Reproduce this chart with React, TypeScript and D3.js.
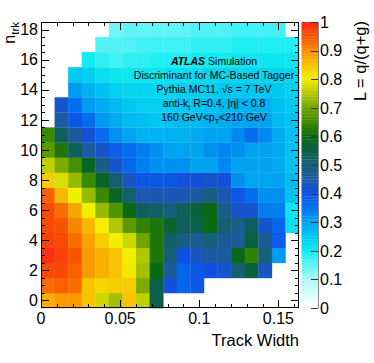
import React, { useEffect, useRef } from 'react';
import * as d3 from 'd3';

// track width axis: 19 bins from 0 to 0.163
const xMax = 0.163;
const nBinsX = 19;
const nTrk = d3.range(0, 19);
const xTickValues = [0, 0.05, 0.1, 0.15];
const xTickLabels = ['0', '0.05', '0.1', '0.15'];
const yTickValues = [0, 2, 4, 6, 8, 10, 12, 14, 16, 18];
const zTickValues = [0, 0.1, 0.2, 0.3, 0.4, 0.5, 0.6, 0.7, 0.8, 0.9, 1];
const zTickLabels = ['0', '0.1', '0.2', '0.3', '0.4', '0.5', '0.6', '0.7', '0.8', '0.9', '1'];

// palette of the colour bar
const paletteStops = [0, 0.05, 0.1, 0.15, 0.2, 0.25, 0.3, 0.35, 0.4, 0.45, 0.5, 0.55, 0.6, 0.65, 0.7, 0.75, 0.8, 0.85, 0.9, 0.95, 1];
const paletteColors = ['#ffffff', '#d8fcfc', '#b0f8f8', '#60f4f8', '#10ecf0', '#00c8f0', '#00a4f0', '#0074f0', '#1050e4', '#1e5aa8', '#17607a', '#0a6048', '#0a6a10', '#3a8a00', '#70a400', '#b0c800', '#f0f000', '#f8c400', '#f89000', '#f85400', '#ff2418'];

// L = q/(q+g) per n_trk row (row n = nTrk value), one value per track width bin, null = empty bin
const L0 = [0.87, 0.89, 0.89, 0.85, 0.77, 0.74, 0.85, 0.76, 0.55, null, null, null, null, null, null, null, null, null, null];
const L1 = [0.93, 0.94, 0.93, 0.85, 0.83, 0.84, 0.84, 0.71, 0.55, 0.41, 0.37, 0.39, null, null, null, null, null, null, null];
const L2 = [0.96, 0.96, 0.94, 0.89, 0.87, 0.85, 0.81, 0.74, 0.6, 0.46, 0.37, 0.39, 0.4, 0.42, 0.51, 0.56, 0.43, null, null];
const L3 = [0.99, 0.97, 0.95, 0.89, 0.87, 0.85, 0.8, 0.75, 0.62, 0.5, 0.4, 0.43, 0.46, 0.46, 0.59, 0.64, 0.5, 0.31, null];
const L4 = [0.97, 0.96, 0.93, 0.88, 0.84, 0.8, 0.77, 0.7, 0.62, 0.52, 0.49, 0.47, 0.5, 0.47, 0.47, 0.56, 0.47, 0.38, null];
const L5 = [0.96, 0.95, 0.91, 0.86, 0.8, 0.75, 0.68, 0.64, 0.62, 0.57, 0.53, 0.55, 0.6, 0.51, 0.48, 0.53, 0.42, 0.37, 0.22];
const L6 = [0.96, 0.93, 0.88, 0.8, 0.73, 0.67, 0.6, 0.53, 0.52, 0.5, 0.53, 0.56, 0.6, 0.48, 0.42, 0.42, 0.34, 0.34, 0.21];
const L7 = [0.94, 0.86, 0.8, 0.73, 0.65, 0.58, 0.51, 0.44, 0.44, 0.44, 0.44, 0.46, 0.49, 0.44, 0.39, 0.36, 0.32, 0.32, 0.26];
const L8 = [0.84, 0.78, 0.73, 0.65, 0.58, 0.51, 0.43, 0.39, 0.39, 0.39, 0.41, 0.41, 0.42, 0.41, 0.32, 0.3, 0.3, 0.3, 0.27];
const L9 = [0.76, 0.71, 0.66, 0.58, 0.49, 0.42, 0.37, 0.34, 0.32, 0.32, 0.32, 0.3, 0.3, 0.33, 0.3, 0.3, 0.3, 0.29, 0.26];
const L10 = [0.68, 0.62, 0.53, 0.46, 0.42, 0.38, 0.36, 0.34, 0.32, 0.3, 0.3, 0.3, 0.32, 0.33, 0.32, 0.3, 0.3, 0.29, 0.26];
const L11 = [0.65, 0.53, 0.46, 0.41, 0.36, 0.32, 0.3, 0.28, 0.28, 0.28, 0.28, 0.29, 0.3, 0.3, 0.33, 0.36, 0.33, 0.29, 0.26];
const L12 = [null, 0.46, 0.39, 0.36, 0.31, 0.29, 0.27, 0.26, 0.25, 0.26, 0.27, 0.27, 0.28, 0.29, 0.3, 0.3, 0.3, 0.27, 0.26];
const L13 = [null, 0.42, 0.36, 0.31, 0.29, 0.27, 0.25, 0.24, 0.24, 0.24, 0.25, 0.25, 0.26, 0.27, 0.28, 0.28, 0.28, 0.26, 0.25];
const L14 = [null, null, 0.31, 0.28, 0.26, 0.24, 0.23, 0.23, 0.23, 0.23, 0.24, 0.24, 0.24, 0.25, 0.25, 0.25, 0.25, 0.25, 0.24];
const L15 = [null, null, 0.25, 0.24, 0.22, 0.21, 0.21, 0.21, 0.21, 0.22, 0.22, 0.22, 0.23, 0.23, 0.23, 0.23, 0.23, 0.23, 0.23];
const L16 = [null, null, null, 0.2, 0.18, 0.17, 0.18, 0.18, 0.19, 0.19, 0.19, 0.2, 0.2, 0.2, 0.21, 0.21, 0.21, 0.21, 0.21];
const L17 = [null, null, null, null, 0.16, 0.16, 0.16, 0.17, 0.17, 0.17, 0.17, 0.18, 0.18, 0.18, 0.19, 0.19, 0.19, 0.19, 0.19];
const L18 = [null, null, null, null, null, 0.14, 0.15, 0.15, 0.15, 0.15, 0.15, 0.16, 0.16, 0.16, 0.17, 0.17, 0.17, 0.17, null];
const lRows = [L0, L1, L2, L3, L4, L5, L6, L7, L8, L9, L10, L11, L12, L13, L14, L15, L16, L17, L18];

const FONT = '"Liberation Sans", Arial, Helvetica, sans-serif';

export default function App() {
  const svgRef = useRef<SVGSVGElement>(null);

  useEffect(() => {
    const svg = d3.select(svgRef.current);
    svg.selectAll('*').remove();

    const left = 41, right = 299, top = 22, bottom = 308;
    const x = d3.scaleLinear().domain([0, xMax]).range([left, right]);
    const y = d3.scaleLinear().domain([-0.5, 18.5]).range([bottom, top]);
    const color = d3.scaleLinear<string>().domain(paletteStops).range(paletteColors).interpolate(d3.interpolateRgb).clamp(true);
    const binW = xMax / nBinsX;

    const cells: { i: number; n: number; v: number }[] = [];
    lRows.forEach((row, n) => row.forEach((v, i) => { if (v != null) cells.push({ i, n: nTrk[n], v }); }));

    svg.append('g').selectAll('rect').data(cells).enter().append('rect')
      .attr('x', d => x(d.i * binW))
      .attr('y', d => y(d.n + 0.5))
      .attr('width', x(binW) - x(0) + 0.3)
      .attr('height', y(0) - y(1) + 0.3)
      .attr('fill', d => color(d.v));

    // frame + ticks on all four sides
    const axes = svg.append('g').attr('stroke', '#000').attr('stroke-width', 1);
    axes.append('rect').attr('x', left + 0.5).attr('y', top + 0.5).attr('width', right - left - 1).attr('height', bottom - top - 1).attr('fill', 'none');
    const xMinor = d3.range(0, 0.1601, 0.01);
    xMinor.forEach(t => {
      const major = xTickValues.some(m => Math.abs(m - t) < 1e-6);
      const len = major ? 8 : 4;
      const px = Math.round(x(t)) + 0.5;
      axes.append('line').attr('x1', px).attr('x2', px).attr('y1', bottom).attr('y2', bottom - len);
      axes.append('line').attr('x1', px).attr('x2', px).attr('y1', top).attr('y2', top + len);
    });
    const yMinor = d3.range(0, 18.01, 0.5);
    yMinor.forEach(t => {
      const major = yTickValues.includes(t);
      const len = major ? 8 : 4;
      const py = Math.round(y(t)) + 0.5;
      axes.append('line').attr('x1', left).attr('x2', left + len).attr('y1', py).attr('y2', py);
      axes.append('line').attr('x1', right).attr('x2', right - len).attr('y1', py).attr('y2', py);
    });

    const labels = svg.append('g').attr('font-family', FONT).attr('fill', '#000');
    xTickValues.forEach((t, k) => {
      labels.append('text').attr('x', x(t)).attr('y', 324).attr('text-anchor', 'middle').attr('font-size', 16).text(xTickLabels[k]);
    });
    yTickValues.forEach(t => {
      labels.append('text').attr('x', 38).attr('y', y(t)).attr('dy', '0.36em').attr('text-anchor', 'end').attr('font-size', 16).text(String(t));
    });

    labels.append('text').attr('x', 299).attr('y', 346).attr('text-anchor', 'end').attr('font-size', 16.5).text('Track Width');

    const ntrk = labels.append('text').attr('transform', 'translate(15,22) rotate(-90)').attr('text-anchor', 'end').attr('font-size', 16);
    ntrk.append('tspan').text('n');
    ntrk.append('tspan').attr('font-size', 11.5).attr('dy', 4).text('trk');

    labels.append('text').attr('transform', 'translate(366,21) rotate(-90)').attr('text-anchor', 'end').attr('font-size', 16.5).text('L = q/(q+g)');

    // colour bar
    const cbL = 301.5, cbR = 318;
    const z = d3.scaleLinear().domain([0, 1]).range([bottom, top]);
    const bands = d3.range(0, 1, 0.01);
    svg.append('g').selectAll('rect').data(bands).enter().append('rect')
      .attr('x', cbL).attr('width', cbR - cbL)
      .attr('y', d => z(d + 0.01)).attr('height', z(0) - z(0.01) + 0.3)
      .attr('fill', d => color(d + 0.005));
    svg.append('line').attr('x1', cbR + 0.5).attr('x2', cbR + 0.5).attr('y1', top).attr('y2', bottom).attr('stroke', '#888');
    zTickValues.forEach((t, k) => {
      const py = Math.round(z(t)) + 0.5;
      svg.append('line').attr('x1', cbR - 7).attr('x2', cbR).attr('y1', py).attr('y2', py).attr('stroke', '#333');
      labels.append('text').attr('x', 320).attr('y', z(t)).attr('dy', '0.36em').attr('font-size', 16).text(zTickLabels[k]);
    });

    // ATLAS annotation
    const cx = 214;
    const ann = labels.append('g').attr('font-size', 10.5).attr('text-anchor', 'middle');
    const l1 = ann.append('text').attr('x', cx).attr('y', 65);
    l1.append('tspan').attr('font-weight', 'bold').attr('font-style', 'italic').text('ATLAS');
    l1.append('tspan').text(' Simulation');
    ann.append('text').attr('x', cx).attr('y', 79).text('Discriminant for MC-Based Tagger');
    ann.append('text').attr('x', cx).attr('y', 93).text('Pythia MC11,  √s = 7 TeV');
    const l4 = ann.append('text').attr('x', cx).attr('y', 107);
    l4.append('tspan').text('anti-k');
    l4.append('tspan').attr('font-size', 7.5).attr('dy', 3).text('t');
    l4.append('tspan').attr('dy', -3).text(' R=0.4, |η| < 0.8');
    const l5 = ann.append('text').attr('x', cx).attr('y', 121);
    l5.append('tspan').text('160 GeV<p');
    l5.append('tspan').attr('font-size', 7.5).attr('dy', 3).text('T');
    l5.append('tspan').attr('dy', -3).text('<210 GeV');
  }, []);

  return (
    <svg ref={svgRef} width={374} height={363} style={{ position: 'absolute', left: 0, top: 0, background: '#fff' }} />
  );
}
